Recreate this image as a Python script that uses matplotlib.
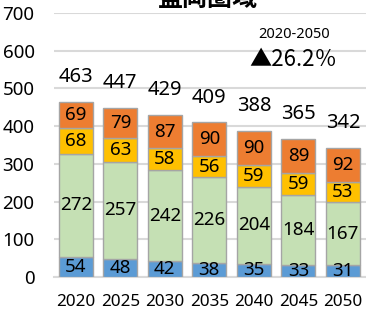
import matplotlib.pyplot as plt
import numpy as np

plt.rcParams['font.family'] = ['Noto Sans', 'Noto Sans CJK JP', 'DejaVu Sans']

years = ['2020', '2025', '2030', '2035', '2040', '2045', '2050']
age_0_14 = [54, 48, 42, 38, 35, 33, 31]
age_15_64 = [272, 257, 242, 226, 204, 184, 167]
age_65_74 = [68, 63, 58, 56, 59, 59, 53]
age_75 = [69, 79, 87, 90, 90, 89, 92]
totals = [463, 447, 429, 409, 388, 365, 342]

series = [age_0_14, age_15_64, age_65_74, age_75]
colors = ['#5B9BD5', '#C5E0B4', '#FFC000', '#ED7D31']

fig = plt.figure(figsize=(3.66, 3.12), dpi=100)
ax = fig.add_axes([54/366, 35/312, 312/366, 264/312])

x = np.arange(len(years))
bottom = np.zeros(len(years))
for vals, c in zip(series, colors):
    ax.bar(x, vals, 0.77, bottom=bottom, color=c, edgecolor='#A5A5A5',
           linewidth=1, zorder=3)
    for xi, b, v in zip(x, bottom, vals):
        ax.text(xi, b + v / 2, str(v), ha='center', va='center', fontsize=13.5, zorder=4)
    bottom += np.array(vals)

for xi, t in zip(x, totals):
    ax.annotate(str(t), (xi, t), xytext=(0, 18), textcoords='offset points',
                ha='center', va='center', fontsize=14.5)

ax.set_xlim(-0.49, 6.52)
ax.set_ylim(0, 700)
ax.set_yticks(range(0, 701, 100))
ax.set_xticks(x)
ax.set_xticklabels(years)
ax.grid(axis='y', color='#D9D9D9', linewidth=1.5, zorder=0)
for s in ['top', 'right', 'left']:
    ax.spines[s].set_visible(False)
ax.spines['bottom'].set_color('#D9D9D9')
ax.spines['bottom'].set_linewidth(1.5)
ax.tick_params(axis='y', length=0, pad=14, labelsize=13.5)
ax.tick_params(axis='x', length=0, pad=12, labelsize=12.3)

fig.text(207/366, 1 + 1.5/312, '盛岡圏域', ha='center', va='center', fontsize=18,
         fontweight='bold', family=['Noto Sans CJK JP'])
fig.text(294/366, 1 - 35/312, '2020-2050', ha='center', va='center', fontsize=10.5)
fig.text(293/366, 1 - 60/312, '▲26.2％', ha='center', va='center', fontsize=16,
         family=['Noto Sans CJK JP', 'DejaVu Sans'])

fig.savefig('out.png', dpi=100)
